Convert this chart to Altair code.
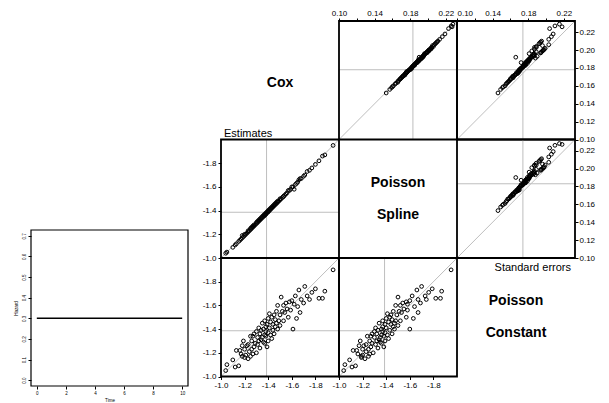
import altair as alt
import pandas as pd

# ---------------- simulation results, one entry per replicate ----------------
cox_est = [
    -1.04, -1.05, -1.10, -1.12, -1.13, -1.15, -1.16, -1.17, -1.18, -1.18,
    -1.19, -1.20, -1.20, -1.21, -1.22, -1.23, -1.23, -1.24, -1.25, -1.25,
    -1.26, -1.26, -1.27, -1.27, -1.28, -1.28, -1.29, -1.30, -1.30, -1.31,
    -1.31, -1.32, -1.32, -1.33, -1.33, -1.34, -1.34, -1.35, -1.35, -1.36,
    -1.36, -1.37, -1.37, -1.37, -1.38, -1.38, -1.38, -1.39, -1.39, -1.40,
    -1.40, -1.40, -1.41, -1.41, -1.42, -1.42, -1.43, -1.43, -1.44, -1.44,
    -1.45, -1.45, -1.46, -1.46, -1.47, -1.47, -1.48, -1.48, -1.49, -1.50,
    -1.50, -1.51, -1.52, -1.53, -1.53, -1.54, -1.55, -1.56, -1.57, -1.58,
    -1.59, -1.60, -1.61, -1.62, -1.63, -1.64, -1.65, -1.66, -1.67, -1.68,
    -1.70, -1.71, -1.73, -1.75, -1.77, -1.80, -1.83, -1.86, -1.88, -1.95,
]
spline_est = [
    -1.04, -1.05, -1.09, -1.11, -1.12, -1.14, -1.15, -1.16, -1.17, -1.19,
    -1.18, -1.19, -1.20, -1.20, -1.21, -1.22, -1.23, -1.23, -1.24, -1.25,
    -1.25, -1.26, -1.26, -1.27, -1.27, -1.28, -1.28, -1.29, -1.30, -1.30,
    -1.31, -1.31, -1.32, -1.32, -1.33, -1.33, -1.34, -1.34, -1.35, -1.35,
    -1.36, -1.36, -1.37, -1.36, -1.37, -1.38, -1.37, -1.38, -1.39, -1.39,
    -1.40, -1.39, -1.40, -1.41, -1.41, -1.42, -1.42, -1.43, -1.43, -1.44,
    -1.44, -1.45, -1.45, -1.46, -1.46, -1.47, -1.47, -1.48, -1.48, -1.49,
    -1.50, -1.50, -1.51, -1.52, -1.52, -1.53, -1.54, -1.55, -1.57, -1.57,
    -1.58, -1.60, -1.60, -1.58, -1.62, -1.63, -1.64, -1.66, -1.67, -1.67,
    -1.69, -1.70, -1.73, -1.74, -1.76, -1.79, -1.82, -1.86, -1.87, -1.95,
]
const_est = [
    -1.05, -1.10, -1.14, -1.08, -1.22, -1.09, -1.22, -1.19, -1.26, -1.17,
    -1.30, -1.16, -1.23, -1.18, -1.26, -1.15, -1.27, -1.21, -1.34, -1.17,
    -1.23, -1.30, -1.19, -1.34, -1.25, -1.36, -1.28, -1.20, -1.38, -1.33,
    -1.27, -1.41, -1.30, -1.36, -1.24, -1.39, -1.31, -1.45, -1.33, -1.29,
    -1.40, -1.35, -1.47, -1.28, -1.42, -1.34, -1.38, -1.25, -1.44, -1.37,
    -1.49, -1.30, -1.41, -1.53, -1.35, -1.46, -1.32, -1.50, -1.39, -1.44,
    -1.52, -1.36, -1.48, -1.42, -1.55, -1.45, -1.40, -1.60, -1.47, -1.52,
    -1.43, -1.67, -1.55, -1.47, -1.60, -1.54, -1.62, -1.57, -1.50, -1.63,
    -1.56, -1.64, -1.40, -1.61, -1.68, -1.49, -1.59, -1.73, -1.54, -1.65,
    -1.62, -1.76, -1.68, -1.65, -1.71, -1.74, -1.66, -1.66, -1.72, -1.90,
]
cox_se = [
    0.171, 0.184, 0.196, 0.163, 0.178, 0.189, 0.201, 0.175, 0.168, 0.193,
    0.186, 0.172, 0.205, 0.159, 0.181, 0.197, 0.176, 0.190, 0.210, 0.166,
    0.183, 0.199, 0.174, 0.187, 0.152, 0.192, 0.179, 0.203, 0.170, 0.185,
    0.195, 0.177, 0.208, 0.164, 0.188, 0.200, 0.173, 0.182, 0.215, 0.169,
    0.191, 0.180, 0.198, 0.156, 0.186, 0.204, 0.175, 0.194, 0.227, 0.167,
    0.183, 0.202, 0.178, 0.189, 0.160, 0.196, 0.172, 0.207, 0.181, 0.192,
    0.174, 0.199, 0.185, 0.218, 0.165, 0.188, 0.193, 0.177, 0.206, 0.171,
    0.184, 0.197, 0.180, 0.212, 0.162, 0.190, 0.201, 0.176, 0.229, 0.168,
    0.187, 0.195, 0.173, 0.209, 0.158, 0.192, 0.183, 0.200, 0.179, 0.224,
    0.170, 0.191, 0.186, 0.203, 0.175, 0.198, 0.182, 0.226, 0.194, 0.188,
]
spline_se = [
    0.172, 0.185, 0.196, 0.164, 0.180, 0.189, 0.202, 0.176, 0.169, 0.195,
    0.187, 0.174, 0.205, 0.160, 0.182, 0.199, 0.176, 0.192, 0.211, 0.167,
    0.185, 0.200, 0.175, 0.188, 0.153, 0.194, 0.181, 0.204, 0.171, 0.186,
    0.196, 0.178, 0.209, 0.166, 0.190, 0.201, 0.174, 0.183, 0.216, 0.170,
    0.193, 0.181, 0.199, 0.157, 0.187, 0.206, 0.176, 0.195, 0.226, 0.168,
    0.184, 0.204, 0.179, 0.190, 0.161, 0.197, 0.173, 0.208, 0.182, 0.193,
    0.175, 0.201, 0.186, 0.219, 0.166, 0.189, 0.194, 0.178, 0.207, 0.172,
    0.185, 0.198, 0.182, 0.213, 0.163, 0.191, 0.203, 0.177, 0.228, 0.169,
    0.188, 0.196, 0.174, 0.210, 0.159, 0.190, 0.184, 0.201, 0.180, 0.223,
    0.171, 0.192, 0.188, 0.204, 0.176, 0.199, 0.183, 0.227, 0.195, 0.189,
]
const_se = [
    0.164, 0.177, 0.181, 0.156, 0.171, 0.180, 0.198, 0.168, 0.160, 0.190,
    0.172, 0.165, 0.196, 0.152, 0.174, 0.194, 0.170, 0.181, 0.195, 0.159,
    0.176, 0.196, 0.168, 0.178, 0.146, 0.183, 0.172, 0.187, 0.162, 0.179,
    0.186, 0.170, 0.193, 0.157, 0.179, 0.197, 0.166, 0.175, 0.206, 0.163,
    0.188, 0.173, 0.189, 0.149, 0.177, 0.189, 0.169, 0.185, 0.210, 0.160,
    0.175, 0.199, 0.170, 0.181, 0.154, 0.187, 0.165, 0.192, 0.174, 0.184,
    0.168, 0.184, 0.176, 0.208, 0.158, 0.181, 0.186, 0.169, 0.203, 0.163,
    0.176, 0.194, 0.172, 0.203, 0.155, 0.182, 0.187, 0.169, 0.215, 0.161,
    0.180, 0.186, 0.166, 0.194, 0.151, 0.166, 0.177, 0.197, 0.171, 0.204,
    0.163, 0.182, 0.178, 0.189, 0.167, 0.195, 0.174, 0.218, 0.187, 0.180,
]

method_labels = ["Cox", "Poisson Spline", "Poisson Constant"]
true_log_hr = -1.386                  # reference line in the estimate panels
empirical_sd = [0.178, 0.183, 0.174]  # reference lines in the SE panels

est_domain = [-1.0, -2.0]
se_domain = [0.10, 0.2325]
est_ticks = [-1.0, -1.2, -1.4, -1.6, -1.8]
se_ticks = [0.10, 0.12, 0.14, 0.16, 0.18, 0.20, 0.22]
se_top_labels = ["0.10", "0.14", "0.18", "0.22"]

# baseline hazard used in the simulation (inset)
inset_time = [0, 10]
inset_hazard = [0.3, 0.3]
time_ticks = [0, 2, 4, 6, 8, 10]
hazard_ticks = [0.0, 0.1, 0.2, 0.3, 0.4, 0.5, 0.6, 0.7]
time_domain = [-0.4, 10.4]
hazard_domain = [-0.028, 0.728]

# ---------------- layout (pixels) ----------------
W, H = 609, 403
COLS = [221, 339, 457, 575]
ROWS = [21, 139.5, 258, 376.5]
INSET_X = [31, 188]
INSET_Y = [386, 230]
FONT = "Liberation Sans"
GRAY = "#bebebe"
LINE_GAP = 0.135   # half the distance between two label lines, in cell units


def make_axis(**kw):
    base = dict(domain=False, grid=False, ticks=True, tickSize=3, tickColor="black",
                tickWidth=1, labelFont=FONT, labelFontSize=8, labelColor="black",
                labelPadding=1, labelOverlap=False, labelFlush=False, title="")
    base.update(kw)
    return alt.Axis(**base)


est_label = "replace(format(datum.value, '.1f'), '\u2212', '-')"
se_top_label = ("indexof([" + ",".join("'%s'" % s for s in se_top_labels) +
                "], format(datum.value, '.2f')) >= 0 ? format(datum.value, '.2f') : ''")


def scatter_panel(xv, yv, dom, col, row, xref, yref, xaxis, yaxis):
    """Layers of one off-diagonal panel; every layer uses the same fixed scales."""
    xs = alt.Scale(domain=dom, range=[COLS[col], COLS[col + 1]], nice=False, zero=False)
    ys = alt.Scale(domain=dom, range=[ROWS[row + 1], ROWS[row]], nice=False, zero=False)

    def X(f, axis=None):
        return alt.X(f, type="quantitative", scale=xs, axis=axis)

    def Y(f, axis=None):
        return alt.Y(f, type="quantitative", scale=ys, axis=axis)

    diag = alt.Chart(alt.Data(values=[{"a": dom[0]}, {"a": dom[1]}])).mark_line(
        color=GRAY, strokeWidth=1).encode(x=X("a"), y=Y("a"))
    vline = alt.Chart(alt.Data(values=[{"v": xref, "y0": dom[0], "y1": dom[1]}])).mark_rule(
        color=GRAY, strokeWidth=1).encode(x=X("v"), y=Y("y0"), y2="y1")
    hline = alt.Chart(alt.Data(values=[{"h": yref, "x0": dom[0], "x1": dom[1]}])).mark_rule(
        color=GRAY, strokeWidth=1).encode(y=Y("h"), x=X("x0"), x2="x1")
    pts = alt.Chart(pd.DataFrame({"x": xv, "y": yv})).mark_point(
        shape="circle", filled=False, color="black", size=14, strokeWidth=1, opacity=1
    ).encode(x=X("x", xaxis), y=Y("y", yaxis))
    frame = alt.Chart(alt.Data(values=[{"x0": dom[0], "x1": dom[1], "y0": dom[0], "y1": dom[1]}])).mark_rect(
        filled=False, stroke="black", strokeWidth=1.8).encode(x=X("x0"), x2="x1", y=Y("y0"), y2="y1")
    return [diag, vline, hline, pts, frame]


est = [cox_est, spline_est, const_est]
se = [cox_se, spline_se, const_se]

layers = []
for i in range(3):
    for j in range(3):
        if i == j:
            continue
        if i > j:
            xaxis = make_axis(orient="bottom", offset=ROWS[3] - H, values=est_ticks,
                              labelExpr=est_label, labelPadding=2) if i == 2 else None
            yaxis = make_axis(orient="left", offset=-COLS[0], values=est_ticks,
                              labelExpr=est_label, labelPadding=2) if j == 0 else None
            layers += scatter_panel(est[j], est[i], est_domain, j, i,
                                    true_log_hr, true_log_hr, xaxis, yaxis)
        else:
            xaxis = None
            if i == 0:
                # the first label of the right-hand panel starts at its tick,
                # so that it does not run into the last label of its neighbour
                align = {"condition": {"test": "datum.value < 0.11", "value": "left"},
                         "value": "center"} if j == 2 else "center"
                xaxis = make_axis(orient="top", offset=-ROWS[0], values=se_ticks,
                                  labelExpr=se_top_label, labelAlign=align)
            yaxis = make_axis(orient="right", offset=COLS[3] - W, values=se_ticks,
                              format=".2f") if j == 2 else None
            layers += scatter_panel(se[j], se[i], se_domain, j, i,
                                    empirical_sd[j], empirical_sd[i], xaxis, yaxis)

# ---------------- inset: hazard over time ----------------
ix = alt.Scale(domain=time_domain, range=INSET_X, nice=False, zero=False)
iy = alt.Scale(domain=hazard_domain, range=INSET_Y, nice=False, zero=False)
inset_xaxis = make_axis(orient="bottom", offset=INSET_Y[0] - H, values=time_ticks, format="d",
                        labelFontSize=4.5, tickSize=3, labelPadding=1.5, title="Time",
                        titleFont=FONT, titleFontSize=4.5, titleFontWeight="normal",
                        titleColor="black", titlePadding=2)
inset_yaxis = make_axis(orient="left", offset=-INSET_X[0], values=hazard_ticks, format=".1f",
                        labelFontSize=4.5, tickSize=3, labelPadding=1.5, labelAngle=270,
                        labelAlign="center", labelBaseline="bottom", title="Hazard",
                        titleFont=FONT, titleFontSize=4.5, titleFontWeight="normal",
                        titleColor="black", titlePadding=3)
inset_line = alt.Chart(pd.DataFrame({"t": inset_time, "h": inset_hazard})).mark_line(
    color="black", strokeWidth=1.5).encode(
    x=alt.X("t", type="quantitative", scale=ix, axis=inset_xaxis),
    y=alt.Y("h", type="quantitative", scale=iy, axis=inset_yaxis))
inset_box = alt.Chart(alt.Data(values=[{"t0": time_domain[0], "t1": time_domain[1],
                                        "h0": hazard_domain[0], "h1": hazard_domain[1]}])).mark_rect(
    filled=False, stroke="black", strokeWidth=1.2).encode(
    x=alt.X("t0", type="quantitative", scale=ix, axis=None), x2="t1",
    y=alt.Y("h0", type="quantitative", scale=iy, axis=None), y2="h1")
layers += [inset_line, inset_box]

# ---------------- text: method names on the diagonal, panel captions ----------------
gx = alt.Scale(domain=[0, 3], range=[COLS[0], COLS[3]], nice=False, zero=False)
gy = alt.Scale(domain=[0, 3], range=[ROWS[0], ROWS[3]], nice=False, zero=False)
label_rows = []
for k, name in enumerate(method_labels):
    words = name.split(" ")
    shifts = [0.02] if len(words) == 1 else [-LINE_GAP, LINE_GAP]
    for word, s in zip(words, shifts):
        label_rows.append({"label": word, "c": k + 0.5, "r": k + 0.5 + s})
diag_labels = alt.Chart(alt.Data(values=label_rows)).mark_text(
    font=FONT, fontSize=14, fontWeight="bold", color="black", align="center",
    baseline="middle").encode(
    x=alt.X("c", type="quantitative", scale=gx, axis=None),
    y=alt.Y("r", type="quantitative", scale=gy, axis=None),
    text="label:N")
est_caption = alt.Chart(alt.Data(values=[{"label": "Estimates", "c": 0, "r": 1}])).mark_text(
    font=FONT, fontSize=11, color="black", align="left", baseline="bottom", dx=3, dy=-1).encode(
    x=alt.X("c", type="quantitative", scale=gx, axis=None),
    y=alt.Y("r", type="quantitative", scale=gy, axis=None),
    text="label:N")
se_caption = alt.Chart(alt.Data(values=[{"label": "Standard errors", "c": 3, "r": 2}])).mark_text(
    font=FONT, fontSize=11, color="black", align="right", baseline="top", dx=-4, dy=4).encode(
    x=alt.X("c", type="quantitative", scale=gx, axis=None),
    y=alt.Y("r", type="quantitative", scale=gy, axis=None),
    text="label:N")
layers += [diag_labels, est_caption, se_caption]

chart = alt.layer(*layers).resolve_scale(
    x="independent", y="independent"
).resolve_axis(
    x="independent", y="independent"
).properties(
    width=W, height=H, padding=0, autosize=alt.AutoSizeParams(type="none")
).configure_view(stroke=None)

chart.save("out.html", embed_options={"renderer": "svg", "actions": False})
